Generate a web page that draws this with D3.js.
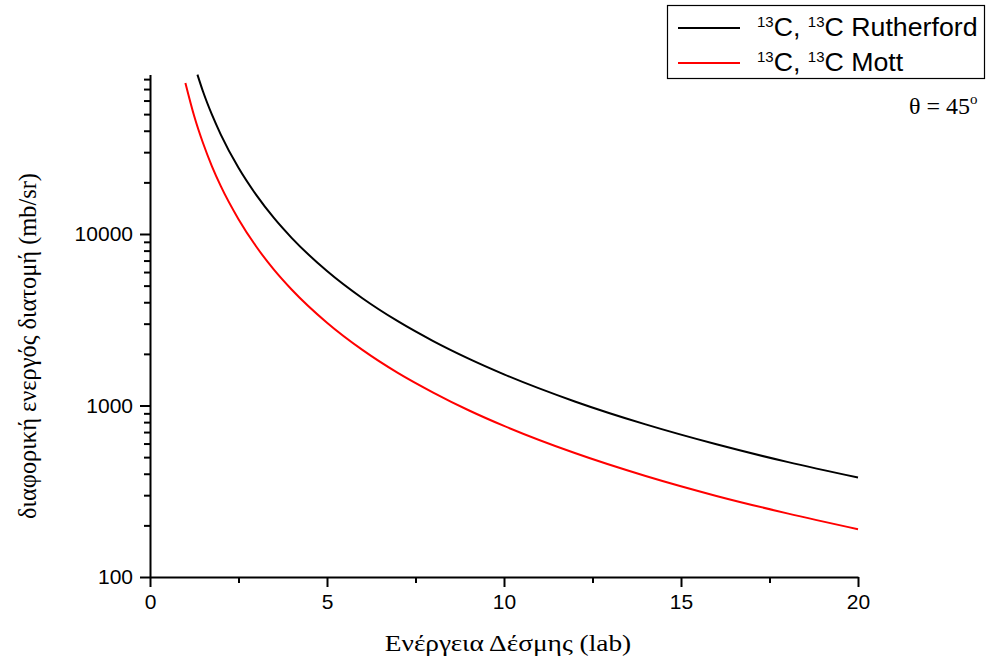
<!DOCTYPE html>
<html>
<head>
<meta charset="utf-8">
<script src="https://cdn.jsdelivr.net/npm/d3@7"></script>
<style>
  html, body { margin: 0; padding: 0; background: #fff; }
  svg { display: block; }
</style>
</head>
<body>
<svg id="chart" width="991" height="660"></svg>
<script>
// ---- data ----
const rutherfordE   = [1.34, 1.5, 1.75, 2, 2.5, 3, 3.5, 4, 5, 6, 7, 8, 9, 10, 12, 14, 16, 18, 20];
const rutherfordVal = [85000, 67500, 49600, 38000, 24300, 16900, 12400, 9500, 6080, 4220, 3100, 2375, 1877, 1520, 1056, 776, 594, 469, 380];
const mottE   = [1.0, 1.25, 1.5, 1.75, 2, 2.5, 3, 3.5, 4, 5, 6, 7, 8, 9, 10, 12, 14, 16, 18, 20];
const mottVal = [76000, 48600, 33800, 24800, 19000, 12200, 8450, 6200, 4750, 3040, 2110, 1550, 1190, 938, 760, 528, 388, 297, 235, 190];
const xTicks = [0, 5, 10, 15, 20];
const xMinorTicks = [2.5, 7.5, 12.5, 17.5];
const yTicks = [100, 1000, 10000];
const seriesNames = ["Rutherford", "Mott"];
const seriesColors = ["#000000", "#ff0000"];
const xTitle = "Ενέργεια Δέσμης (lab)";
const yTitle = "διαφορική ενεργός διατομή (mb/sr)";

// ---- layout ----
const svg = d3.select("#chart");
const x = d3.scaleLinear().domain([0, 20]).range([150, 858]);
const y = d3.scaleLog().domain([100, 85000]).range([577, 74.6]);

const axisFont = "Liberation Sans, Arial, sans-serif";
const serif = "Liberation Serif, Times New Roman, serif";

// minor y ticks
const yMinor = [];
for (let d = 100; d < 100000; d *= 10) {
  for (let k = 2; k <= 9; k++) { const v = d * k; if (v <= 85000) yMinor.push(v); }
}

// x axis
const gx = svg.append("g").attr("transform", `translate(0,${y(100)})`);
gx.call(d3.axisBottom(x).tickValues(xTicks).tickSize(10).tickSizeOuter(0).tickPadding(7));
gx.append("g").call(d3.axisBottom(x).tickValues(xMinorTicks).tickSize(6).tickFormat(""));
gx.selectAll("path.domain").attr("stroke", "#000").attr("stroke-width", 2);
gx.selectAll("line").attr("stroke", "#000").attr("stroke-width", 2);
gx.selectAll("text").attr("font-family", axisFont).attr("font-size", 21).attr("fill", "#000");
gx.selectAll("g g path.domain").remove();

// y axis
const gy = svg.append("g").attr("transform", `translate(${x(0)},0)`);
gy.call(d3.axisLeft(y).tickValues(yTicks).tickFormat(d3.format("d")).tickSize(10).tickSizeOuter(0).tickPadding(7));
gy.append("g").call(d3.axisLeft(y).tickValues(yMinor).tickSize(6).tickFormat(""));
gy.selectAll("path.domain").attr("stroke", "#000").attr("stroke-width", 2);
gy.selectAll("line").attr("stroke", "#000").attr("stroke-width", 2);
gy.selectAll("text").attr("font-family", axisFont).attr("font-size", 21).attr("fill", "#000");
gy.selectAll("g g path.domain").remove();

// curves
const line = d3.line().x(d => x(d[0])).y(d => y(d[1])).curve(d3.curveMonotoneX);
const data = [
  d3.zip(rutherfordE, rutherfordVal),
  d3.zip(mottE, mottVal)
];
svg.append("g").selectAll("path").data(data).join("path")
  .attr("d", line)
  .attr("fill", "none")
  .attr("stroke", (d, i) => seriesColors[i])
  .attr("stroke-width", 2);

// axis titles
svg.append("text")
  .attr("transform", "translate(508,651) scale(1.14,1)")
  .attr("text-anchor", "middle")
  .attr("font-family", serif).attr("font-size", 24)
  .text(xTitle);
svg.append("text")
  .attr("transform", "translate(36,346) rotate(-90)")
  .attr("text-anchor", "middle")
  .attr("font-family", serif).attr("font-size", 24.4)
  .text(yTitle);

// legend
const lg = svg.append("g");
lg.append("rect").attr("x", 667.5).attr("y", 5.5).attr("width", 317).attr("height", 73)
  .attr("fill", "#fff").attr("stroke", "#000").attr("stroke-width", 1.2);
seriesNames.forEach((name, i) => {
  const yy = 28 + i * 35;
  lg.append("line").attr("x1", 678).attr("x2", 740).attr("y1", yy).attr("y2", yy)
    .attr("stroke", seriesColors[i]).attr("stroke-width", 2);
  const t = lg.append("text").attr("transform", `translate(757,${yy + 8}) scale(1.07,1)`)
    .attr("font-family", axisFont).attr("font-size", 25).attr("fill", "#000");
  t.append("tspan").attr("font-size", 14).attr("dy", -9).text("13");
  t.append("tspan").attr("dy", 9).text("C, ");
  t.append("tspan").attr("font-size", 14).attr("dy", -9).text("13");
  t.append("tspan").attr("dy", 9).text("C " + name);
});

// angle annotation
const th = svg.append("text").attr("x", 909).attr("y", 114)
  .attr("font-family", serif).attr("font-size", 24).attr("fill", "#000");
th.append("tspan").text("θ = 45");
th.append("tspan").attr("font-size", 15).attr("dy", -10).text("o");
</script>
</body>
</html>
